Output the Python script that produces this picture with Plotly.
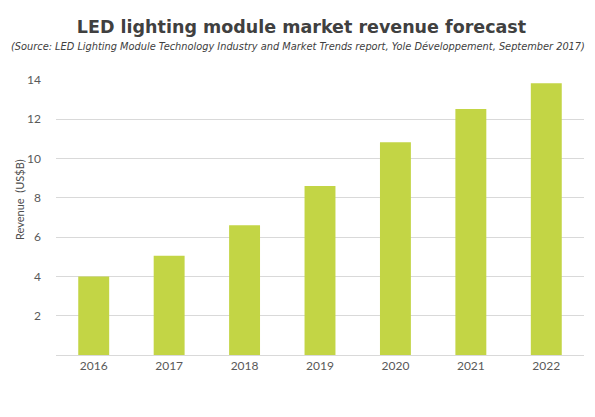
import plotly.graph_objects as go

# Data
years = ["2016", "2017", "2018", "2019", "2020", "2021", "2022"]
revenue = [4.0, 5.05, 6.6, 8.6, 10.83, 12.53, 13.83]
y_ticks = [2, 4, 6, 8, 10, 12, 14]

bar_color = "#c3d545"
text_grey = "#595959"

# page body has an 8px margin, so the figure is a bit smaller than the window
W, H = 587, 409

fig = go.Figure(
    go.Bar(x=years, y=revenue, marker_color=bar_color, marker_line_width=0)
)

fig.update_layout(
    width=W,
    height=H,
    margin=dict(l=48, r=11, t=72, b=62),
    paper_bgcolor="white",
    plot_bgcolor="white",
    bargap=0.59,
    showlegend=False,
    title=dict(
        text="<b>LED lighting module market revenue forecast</b>",
        x=0.5,
        xanchor="center",
        y=1 - 19 / H,
        yanchor="middle",
        font=dict(family="DejaVu Sans", size=17.5, color="#404040"),
    ),
)

# subtitle and y-axis label as free annotations
fig.add_annotation(
    text="<i>(Source: LED Lighting Module Technology Industry and Market Trends report, "
    "Yole Développement, September 2017)</i>",
    xref="paper", yref="paper",
    x=(290 - 48) / 528, y=(347 - 38) / 275,
    xanchor="center", yanchor="middle",
    showarrow=False,
    font=dict(family="DejaVu Sans", size=9.8, color="#404040"),
)
fig.add_annotation(
    text="Revenue  (US$B)",
    xref="paper", yref="paper",
    x=(11 - 48) / 528, y=(347 - 192) / 275,
    xanchor="center", yanchor="middle",
    textangle=-90,
    showarrow=False,
    font=dict(family="Lato", size=11, color="#4d4d4d"),
)

fig.update_xaxes(
    automargin=False,
    showgrid=False,
    showline=True,
    linecolor="#d9d9d9",
    linewidth=1,
    ticks="",
    tickfont=dict(family="Lato", size=12, color=text_grey),
)
fig.update_yaxes(
    automargin=False,
    range=[0, 14],
    tickvals=y_ticks,
    showgrid=True,
    gridcolor="#d9d9d9",
    gridwidth=1,
    zeroline=False,
    showline=False,
    ticks="",
    ticklabelstandoff=14,
    tickfont=dict(family="Lato", size=12, color=text_grey),
)

fig.write_html("out.html")
